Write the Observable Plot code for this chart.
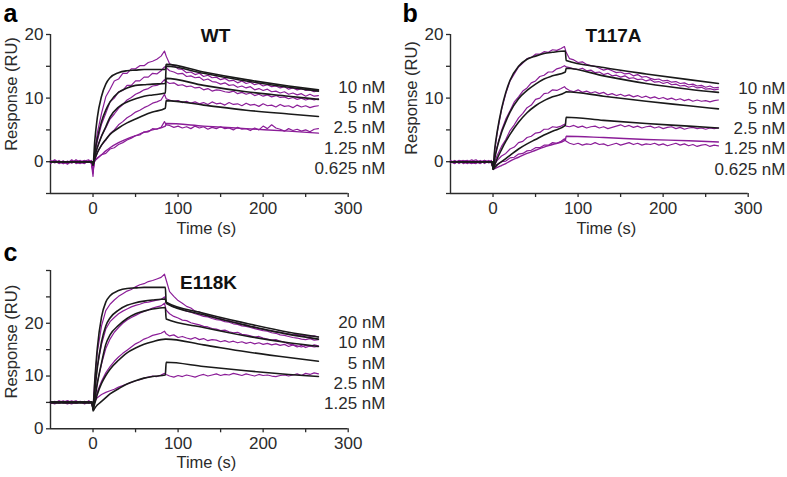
<!DOCTYPE html>
<html><head><meta charset="utf-8">
<script src="https://cdn.jsdelivr.net/npm/d3@7"></script>
<script src="https://cdn.jsdelivr.net/npm/@observablehq/plot@0.6"></script>
<style>
body{margin:0;background:#fff;}
#root{position:relative;width:787px;height:477px;overflow:hidden;font-family:"Liberation Sans",Arial,sans-serif;}
#root svg{position:absolute;overflow:visible;}
</style></head><body><div id="root"></div>
<script>
// ---------- shared time grids (s) ----------
const times = [-50,-45,-40,-35,-30,-25,-20,-15,-10,-5,-2, 0,2,
  5,10,15,20,25,30,35,40,45,50,55,60,65,70,75,80, 84,86,
  90,95,100,105,110,115,120,125,130,135,140,145,150,155,160,165,170,175,180,
  185,190,195,200,205,210,215,220,225,230,235,240,245,250,255,260,265];
const fitTimes = [-50,-1,0,2,5,10,15,20,30,40,50,60,70,85,86,130,180,230,265];

const xTicks = [0,100,200,300];
const xMinor = [50,150,250];

// ---------- panel a : WT ----------
const a_labels = ["10 nM","5 nM","2.5 nM","1.25 nM","0.625 nM"];
const a_yTicks = [0,10,20];
const a_yMinor = [-5,5,15];
const a_p10 = [-0.2,0.1,-0.3,0.0,-0.4,0.2,-0.1,-0.3,0.1,0.3,-0.2, -2.3,1.5,
  4.5,7.6,10.2,11.4,12.7,13.0,13.9,13.9,14.6,14.6,15.1,15.1,15.6,15.8,16.1,16.6, 17.4,16.6,
  15.4,15.1,14.6,14.5,14.0,14.1,13.7,13.9,13.4,13.6,13.2,13.3,12.9,13.1,12.7,12.8,12.4,12.7,12.3,12.5,
  12.1,12.3,11.9,12.1,11.8,11.9,11.6,11.8,11.4,11.6,11.3,11.5,11.2,11.3,11.0,11.2];
const a_p5 = [0.1,-0.2,0.2,-0.3,0.0,-0.2,0.3,-0.1,-0.3,0.2,0.0, -1.8,1.0,
  3.2,5.9,7.6,9.4,10.0,11.0,11.2,12.0,12.0,12.7,12.7,13.3,13.3,13.9,13.8,14.3, 14.9,14.8,
  14.3,14.1,13.8,13.9,13.4,13.5,13.2,13.3,12.8,13.0,12.6,12.5,12.2,12.4,12.0,12.1,11.7,11.9,11.6,11.8,
  11.3,11.5,11.2,11.4,11.0,11.1,10.8,11.0,10.6,10.8,10.5,10.7,10.3,10.6,10.3,10.4];
const a_p25 = [-0.3,0.2,-0.1,0.1,-0.2,0.3,-0.3,0.0,0.2,-0.1,0.1, -1.5,0.6,
  2.2,4.1,5.3,6.7,7.5,8.4,9.0,9.7,10.1,10.6,10.9,11.3,11.5,11.9,12.0,12.3, 12.9,12.6,
  12.3,12.4,12.0,12.1,11.8,11.9,11.6,11.7,11.3,11.5,11.1,11.3,11.2,11.0,10.9,11.1,10.7,10.9,10.6,10.8,
  10.4,10.6,10.3,10.5,10.2,10.4,10.1,10.2,9.9,10.1,9.8,10.0,9.7,9.9,9.7,9.9];
const a_p125 = [0.2,-0.1,0.0,-0.3,0.1,-0.2,0.0,0.2,-0.2,0.1,-0.3, -1.2,0.3,
  1.4,2.6,3.4,4.4,5.0,5.8,6.3,6.9,7.3,7.8,8.1,8.5,8.8,9.2,9.4,9.7, 10.6,9.9,
  9.7,9.5,9.6,9.3,9.5,9.2,9.4,9.1,9.3,9.0,9.4,9.1,9.2,8.9,9.3,9.0,9.1,8.8,9.2,8.9,
  9.0,8.7,9.1,8.8,8.9,8.6,9.0,8.7,8.8,8.5,8.9,8.6,8.8,8.5,8.7,8.8];
const a_p0625 = [-0.1,0.3,-0.2,0.1,-0.3,0.0,0.2,-0.2,0.1,-0.1,0.2, -0.8,0.1,
  0.6,1.1,1.3,2.0,2.2,2.7,3.0,3.4,3.7,4.1,4.2,4.7,4.7,5.2,5.1,5.4, 6.3,5.8,
  5.7,5.4,5.6,5.3,5.5,5.2,5.6,5.3,5.5,5.1,5.4,5.2,5.5,5.2,5.3,5.0,5.4,5.1,5.2,4.9,
  5.3,5.0,5.6,5.2,5.8,5.3,5.1,4.8,5.2,4.9,5.1,4.8,5.0,4.7,5.1,5.2];
const a_f10 = [0,0,-0.5,3.2,6.9,10.3,12.2,13.2,14.0,14.3,14.4,14.5,14.5,14.5,15.3,14.1,12.9,11.9,11.3];
const a_f5 = [0,0,-0.5,1.5,3.6,6.3,8.1,9.4,10.9,11.6,12.0,12.1,12.2,12.3,15.0,13.9,12.7,11.7,11.1];
const a_f25 = [0,0,-0.5,0.9,2.2,4.0,5.5,7.0,8.6,9.4,9.9,10.3,10.5,10.8,13.1,12.0,11.0,10.3,9.8];
const a_f125 = [0,0,-0.5,0.4,1.4,2.6,3.5,4.3,5.3,6.1,6.7,7.3,7.8,8.4,9.6,8.9,8.1,7.5,7.1];
const a_f0625 = [0,0,-0.5,0.1,0.5,1.1,1.7,2.2,3.0,3.6,4.1,4.6,5.0,5.6,6.0,5.6,5.2,4.8,4.5];

// ---------- panel b : T117A ----------
const b_labels = ["10 nM","5 nM","2.5 nM","1.25 nM","0.625 nM"];
const b_yTicks = [0,10,20];
const b_yMinor = [-5,5,15];
const b_p10 = [0.2,-0.2,0.1,-0.3,0.0,0.3,-0.1,0.2,-0.3,0.1,-0.2, -0.9,1.8,
  4.6,8.2,10.7,12.7,13.8,14.9,15.5,16.2,16.4,16.9,16.9,17.3,17.2,17.6,17.5,17.8, 18.1,17.2,
  16.2,16.0,15.6,15.7,15.3,15.1,15.0,14.7,14.4,14.6,14.3,14.0,14.1,13.8,13.9,13.5,13.7,13.3,13.4,13.1,
  12.9,13.0,12.7,12.8,12.5,12.6,12.3,12.4,12.1,12.2,11.9,12.0,11.7,11.9,11.6,11.7];
const b_p5 = [-0.1,0.2,-0.3,0.1,0.2,-0.2,0.0,-0.3,0.2,0.0,0.1, -1.0,0.8,
  2.5,4.9,6.7,8.0,9.4,10.2,11.1,11.6,12.4,12.7,13.4,13.6,14.1,14.1,14.6,14.8, 15.1,14.9,
  14.8,14.6,14.5,14.7,14.3,14.4,14.0,14.1,13.7,13.9,13.5,13.6,13.3,13.5,13.1,13.2,12.9,13.0,12.7,12.9,
  12.5,12.6,12.3,12.5,12.1,12.2,11.9,12.0,11.7,11.9,11.6,11.7,11.4,11.5,11.3,11.4];
const b_p25 = [0.1,-0.2,0.2,0.0,-0.3,0.1,0.3,-0.2,0.0,-0.1,0.2, -1.1,0.0,
  1.0,2.4,3.5,4.9,5.8,6.9,7.6,8.5,8.9,9.8,10.0,10.7,10.8,11.3,11.2,11.5, 11.8,11.5,
  11.2,11.0,11.3,10.9,11.1,10.8,11.0,10.7,10.9,10.5,10.7,10.4,10.6,10.3,10.5,10.2,10.4,10.1,10.3,10.0,
  10.2,9.9,10.1,9.8,10.0,9.7,9.9,9.6,9.8,9.5,9.7,9.5,9.6,9.4,9.6,9.7];
const b_p125 = [-0.2,0.1,0.0,0.2,-0.1,-0.3,0.1,0.0,0.2,-0.2,0.0, -1.0,-0.4,
  0.2,0.9,1.3,2.0,2.3,3.0,3.2,3.8,4.0,4.5,4.6,5.1,5.1,5.5,5.4,5.6, 5.9,5.6,
  5.5,5.7,5.4,5.6,5.3,5.5,5.6,5.3,5.5,5.2,5.4,5.6,5.8,5.5,5.7,5.4,5.6,5.3,5.5,5.6,
  5.3,5.5,5.2,5.4,5.5,5.2,5.4,5.1,5.3,5.4,5.2,5.3,5.1,5.3,5.2,5.3];
const b_p0625 = [0.0,-0.3,0.2,-0.1,0.1,-0.2,-0.3,0.1,-0.1,0.2,-0.2, -0.8,-0.6,
  -0.4,0.0,0.1,0.6,0.7,1.2,1.3,1.7,1.8,2.2,2.2,2.6,2.6,3.0,2.9,3.2, 3.6,3.2,
  2.9,2.7,2.9,2.6,2.8,2.7,3.0,2.7,2.8,2.5,2.7,2.9,2.6,2.8,3.0,2.7,2.9,2.6,2.8,2.7,
  2.9,2.6,2.8,2.5,2.7,2.9,2.6,2.8,2.5,2.7,2.4,2.6,2.7,2.4,2.6,2.5];
const b_f10 = [0,0,-1.0,2.0,4.8,8.3,10.9,12.8,15.0,16.1,16.6,17.0,17.2,17.4,15.9,14.8,13.8,12.9,12.3];
const b_f5 = [0,0,-1.1,0.5,2.3,4.6,6.3,7.8,9.9,11.2,12.2,13.0,13.5,14.1,14.7,13.5,12.3,11.4,10.9];
const b_f25 = [0,0,-1.2,-0.5,0.5,1.9,3.2,4.3,6.2,7.7,8.8,9.6,10.2,10.9,11.0,10.3,9.5,8.8,8.3];
const b_f125 = [0,0,-1.2,-0.9,-0.5,0.0,0.5,1.0,2.0,2.8,3.5,4.2,4.8,5.7,7.0,6.5,6.0,5.6,5.3];
const b_f0625 = [0,0,-1.2,-1.1,-0.9,-0.6,-0.3,0.1,0.7,1.3,1.8,2.3,2.7,3.4,4.0,3.8,3.5,3.3,3.1];

// ---------- panel c : E118K ----------
const c_labels = ["20 nM","10 nM","5 nM","2.5 nM","1.25 nM"];
const c_yTicks = [0,10,20];
const c_yMinor = [5,15,25,30];
const c_p20 = [5.2,4.8,5.3,5.0,4.7,5.1,5.3,4.9,5.2,4.8,5.1, 4.3,9.0,
  14.5,19.5,22.4,23.6,24.4,25.1,25.6,26.1,26.4,26.9,27.3,27.5,27.9,28.1,28.4,28.7, 29.3,28.2,
  26.0,25.1,24.3,23.8,23.2,22.9,22.3,22.1,21.8,21.5,21.3,21.0,20.9,20.6,20.5,20.2,20.1,19.8,19.7,19.4,
  19.3,19.0,18.9,18.7,18.6,18.4,18.3,18.1,18.0,17.8,17.9,17.6,17.7,17.5,17.6,17.4];
const c_p10 = [4.9,5.2,4.8,5.1,5.3,4.9,5.0,5.2,4.7,5.1,4.9, 4.0,7.5,
  11.8,16.0,18.9,20.3,21.1,21.8,22.3,22.7,23.1,23.4,23.6,23.9,24.0,24.2,24.4,24.5, 25.0,24.0,
  23.5,23.1,22.9,22.6,22.3,22.1,21.8,21.6,21.3,21.2,20.9,20.7,20.6,20.3,20.2,19.9,19.8,19.5,19.4,19.2,
  19.0,18.8,18.6,18.5,18.2,18.1,17.8,17.7,17.5,17.3,17.2,17.0,16.9,17.1,16.8,16.9];
const c_p5 = [5.1,4.8,5.0,5.3,4.9,4.7,5.2,5.0,4.8,5.3,5.0, 4.2,6.0,
  8.8,12.3,15.2,17.0,18.3,19.2,20.0,20.6,21.1,21.5,21.9,22.3,22.5,22.9,23.1,23.3, 23.8,22.5,
  21.8,21.3,21.0,20.6,20.5,20.1,19.9,19.7,19.4,19.3,19.0,18.9,18.6,18.7,18.4,18.2,18.3,17.9,17.8,17.6,
  17.4,17.5,17.2,17.0,16.8,16.9,16.6,16.4,16.1,15.9,15.7,15.5,15.8,15.6,15.9,15.7];
const c_p25 = [4.8,5.1,5.2,4.9,5.0,5.3,4.8,5.1,4.9,5.2,4.8, 4.3,5.3,
  7.0,9.0,10.6,11.8,12.8,13.6,14.3,14.9,15.5,16.1,16.5,17.0,17.3,17.7,17.9,18.1, 18.5,18.0,
  17.6,17.8,17.3,17.5,17.2,17.0,17.3,16.9,17.1,16.7,16.9,16.8,16.5,16.7,16.4,16.6,16.3,16.5,16.2,16.4,
  16.1,16.3,16.0,16.2,15.9,16.1,15.8,16.0,15.6,15.9,15.5,15.8,15.4,15.7,15.5,15.6];
const c_p125 = [5.0,4.7,5.2,4.9,5.3,5.0,4.8,5.1,4.9,5.2,5.0, 4.5,5.2,
  5.9,6.5,6.9,7.2,7.5,7.9,8.2,8.5,8.8,9.1,9.3,9.6,9.8,10.0,9.9,10.2, 10.5,10.3,
  10.0,9.8,10.1,9.9,10.2,10.0,9.8,10.1,10.3,10.0,10.2,10.4,10.1,10.3,10.2,10.5,10.3,10.1,10.4,10.2,
  10.0,10.3,10.1,10.2,10.0,9.9,10.1,10.2,10.0,10.2,10.4,10.1,10.5,10.3,10.6,10.4];
const c_f20 = [5,5,3.8,9.0,15.2,21.2,24.0,25.2,26.2,26.6,26.7,26.8,26.8,26.8,24.0,21.9,20.0,18.3,17.4];
const c_f10 = [5,5,3.8,7.0,11.5,16.5,19.5,21.0,22.5,23.4,23.9,24.2,24.4,24.6,23.8,21.6,19.6,17.9,17.0];
const c_f5 = [5,5,3.8,5.5,8.5,12.5,16.0,17.8,19.6,20.9,21.8,22.3,22.7,23.0,20.8,19.2,17.6,16.3,15.6];
const c_f25 = [5,5,3.8,4.8,6.5,8.6,10.1,11.3,13.0,14.4,15.3,16.0,16.5,17.0,17.0,15.9,14.6,13.5,12.8];
const c_f125 = [5,5,3.4,3.9,4.5,5.2,5.9,6.6,7.6,8.5,9.1,9.6,9.9,10.2,12.6,11.8,11.0,10.3,9.9];

// ---------- drawing ----------
const PURPLE = "#8b1d98";
const FITC = "#1a1a1a";
const AXC = "#2b2b2b";
const FONT = "'Liberation Sans', Arial, Helvetica, sans-serif";

function panel(cfg) {
  const purpleData = cfg.purple.flatMap((vals, i) => times.map((t, j) => ({t, v: vals[j], s: i})));
  const fitData = cfg.fits.flatMap((vals, i) => fitTimes.map((t, j) => ({t, v: vals[j], s: i})));
  const lowData = cfg.low ? fitTimes.map((t, j) => ({t, v: cfg.low[j]})) : [];
  const frameB = cfg.height - cfg.mB;
  const marks = [
    Plot.ruleX([-50], {stroke: AXC, strokeWidth: 1.4}),
    Plot.ruleY([cfg.yDomain[0]], {stroke: AXC, strokeWidth: 1.4}),
    Plot.axisY({ticks: cfg.yTicks, tickSize: 4, tickPadding: 3, fontSize: 17, label: null, stroke: AXC, strokeWidth: 1.3}),
    Plot.axisY({ticks: cfg.yMinor, tickSize: 4, tickFormat: () => "", label: null, stroke: AXC, strokeWidth: 1.3}),
    Plot.axisX({ticks: xTicks, tickSize: 4, tickPadding: 4, fontSize: 17, label: null, stroke: AXC, strokeWidth: 1.3}),
    Plot.axisX({ticks: xMinor, tickSize: 4, tickFormat: () => "", label: null, stroke: AXC, strokeWidth: 1.3}),
    Plot.line(purpleData, {x: "t", y: "v", z: "s", stroke: PURPLE, strokeWidth: 1.2}),
    Plot.line(lowData, {x: "t", y: "v", stroke: PURPLE, strokeWidth: 1.4, curve: "monotone-x"}),
    Plot.line(fitData, {x: "t", y: "v", z: "s", stroke: FITC, strokeWidth: 1.6, curve: "monotone-x"}),
    Plot.text([cfg.title], {frameAnchor: "top-left", text: d => d, dx: cfg.titleX - cfg.mL, dy: cfg.titleY - cfg.mT,
      textAnchor: "middle", lineAnchor: "bottom", fontWeight: "bold", fontSize: 19, fill: "#111"}),
    Plot.text([cfg.letter], {frameAnchor: "top-left", text: d => d, dx: cfg.letterX - cfg.mL, dy: cfg.letterY - cfg.mT,
      textAnchor: "start", lineAnchor: "bottom", fontWeight: "bold", fontSize: 25, fill: "#000"}),
    Plot.text(["Time (s)"], {frameAnchor: "bottom", text: d => d, dx: 7, dy: cfg.timeY - frameB,
      lineAnchor: "bottom", fontSize: 16.5, fill: AXC}),
    Plot.text(["Response (RU)"], {frameAnchor: "left", text: d => d, dx: -39, dy: cfg.respDy, rotate: -90,
      textAnchor: "middle", lineAnchor: "middle", fontSize: 16.5, fill: AXC}),
    ...cfg.labels.map((lab, i) => Plot.text([lab], {frameAnchor: "top-right", text: d => d,
      dx: 385 - (cfg.width - cfg.mR), dy: cfg.labelBase[i] - cfg.mT, textAnchor: "end", lineAnchor: "bottom",
      fontSize: 17, fill: AXC}))
  ];
  const svg = Plot.plot({
    width: cfg.width, height: cfg.height,
    marginLeft: cfg.mL, marginRight: cfg.mR, marginTop: cfg.mT, marginBottom: cfg.mB,
    x: {domain: [-50, 300]},
    y: {domain: cfg.yDomain},
    style: {fontFamily: FONT, color: AXC, background: "transparent", overflow: "visible"},
    marks
  });
  svg.style.left = cfg.left + "px";
  svg.style.top = cfg.top + "px";
  svg.style.overflow = "visible";
  document.getElementById("root").appendChild(svg);
}

panel({left: 0, top: 0, width: 400, height: 240, mL: 50, mR: 52.3, mT: 34, mB: 47,
  yDomain: [-5, 20], yTicks: a_yTicks, yMinor: a_yMinor,
  purple: [a_p10, a_p5, a_p25, a_p125, a_p0625], fits: [a_f10, a_f5, a_f25, a_f125], low: a_f0625,
  labels: a_labels, labelBase: [92, 112, 132, 153, 173],
  title: "WT", titleX: 215, titleY: 41.5, letter: "a", letterX: 3, letterY: 21,
  timeY: 233, respDy: -20});

panel({left: 400, top: 0, width: 387, height: 240, mL: 50, mR: 39.3, mT: 34, mB: 47,
  yDomain: [-5, 20], yTicks: b_yTicks, yMinor: b_yMinor,
  purple: [b_p10, b_p5, b_p25, b_p125, b_p0625], fits: [b_f10, b_f5, b_f25, b_f125], low: b_f0625,
  labels: b_labels, labelBase: [93, 113, 133, 153, 174],
  title: "T117A", titleX: 213, titleY: 41.5, letter: "b", letterX: 2, letterY: 21,
  timeY: 233, respDy: -16});

panel({left: 0, top: 240, width: 400, height: 237, mL: 50, mR: 52.3, mT: 30, mB: 48.7,
  yDomain: [0, 30], yTicks: c_yTicks, yMinor: c_yMinor,
  purple: [c_p20, c_p10, c_p5, c_p25, c_p125], fits: [c_f20, c_f10, c_f5, c_f25, c_f125], low: null,
  labels: c_labels, labelBase: [87, 107, 128, 148, 168],
  title: "E118K", titleX: 208, titleY: 48, letter: "c", letterX: 3, letterY: 20,
  timeY: 227, respDy: -8});
</script></body></html>
